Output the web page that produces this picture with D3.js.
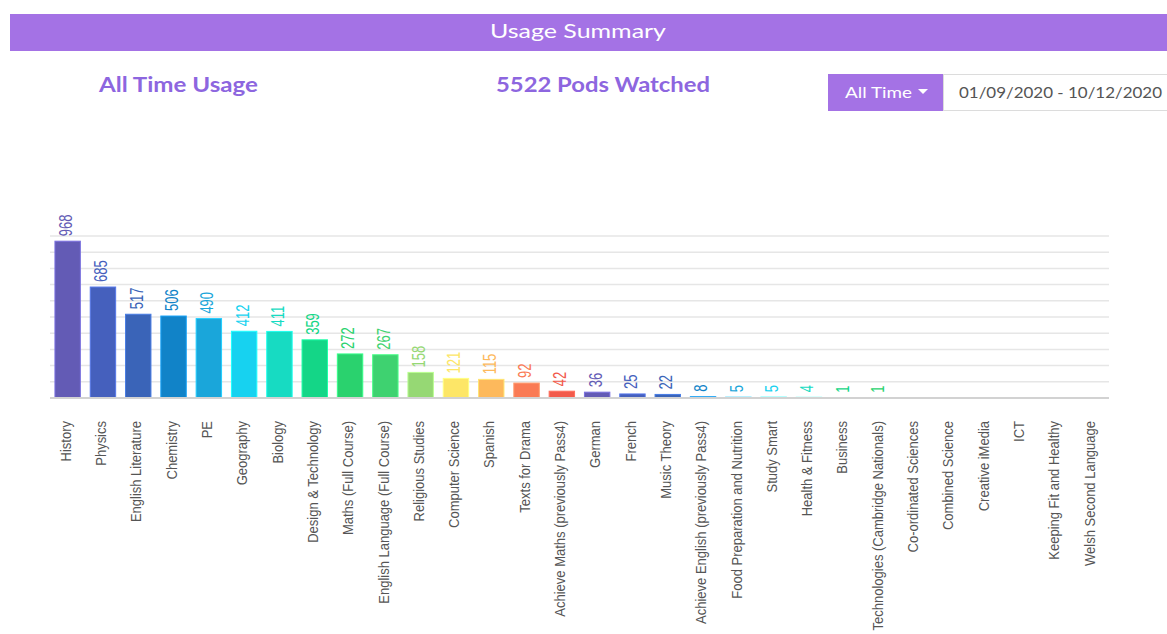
<!DOCTYPE html>
<html>
<head>
<meta charset="utf-8">
<script src="https://cdn.jsdelivr.net/npm/d3@7"></script>
<style>
  body { margin: 0; background: #fff; }
  svg text { font-family: "Liberation Sans", Arial, sans-serif; }
</style>
</head>
<body>
<div id="chart"></div>
<script>
// subjects and how many pods were watched for each
const subjects = ["History", "Physics", "English Literature", "Chemistry", "PE", "Geography", "Biology",
    "Design & Technology", "Maths (Full Course)", "English Language (Full Course)", "Religious Studies",
    "Computer Science", "Spanish", "Texts for Drama", "Achieve Maths (previously Pass4)", "German", "French",
    "Music Theory", "Achieve English (previously Pass4)", "Food Preparation and Nutrition", "Study Smart",
    "Health & Fitness", "Business", "Technologies (Cambridge Nationals)", "Co-ordinated Sciences",
    "Combined Science", "Creative iMedia", "ICT", "Keeping Fit and Healthy", "Welsh Second Language"];
const views = [968, 685, 517, 506, 490, 412, 411, 359, 272, 267, 158, 121, 115, 92, 42, 36, 25, 22, 8, 5, 5, 4, 1, 1, 0, 0, 0, 0, 0, 0];
const palette = ["#635bb5", "#4560bd", "#3a64b8", "#1183c8", "#1aa6da", "#17d2f0", "#17dbc2", "#14d687",
    "#2ad26e", "#3ed270", "#96d874", "#fde667", "#fdb95c", "#fa7b55", "#f25a4b"];
const gridTicks = [100, 200, 300, 400, 500, 600, 700, 800, 900, 1000];

const W = 1167, H = 634;
const svg = d3.select('#chart').append('svg')
    .attr('width', W)
    .attr('height', H);

// small helper for the header texts, stretched to the width seen in the screenshot
const label = (txt, x, y, size, len, color, weight) => svg.append('text')
    .attr('x', x).attr('y', y)
    .attr('textLength', len)
    .attr('lengthAdjust', 'spacingAndGlyphs')
    .style('font-family', 'Lato, sans-serif')
    .style('font-weight', weight || 'normal')
    .style('font-size', size + 'px')
    .style('fill', color)
    .text(txt);

// header bar
svg.append('rect')
    .attr('x', 10).attr('y', 14)
    .attr('width', W - 10).attr('height', 37)
    .style('fill', '#a472e5');
label('Usage Summary', 490, 38, 20, 176, '#fff');

const total = d3.sum(views);
label('All Time Usage', 99, 92, 20, 159, '#8d66df', 'bold');
label(`${total} Pods Watched`, 496, 92, 20, 214, '#8d66df', 'bold');

// date range picker
svg.append('rect')
    .attr('x', 943.5).attr('y', 74.5)
    .attr('width', 230).attr('height', 36)
    .style('fill', '#fff')
    .style('stroke', '#dcdcdc');
svg.append('rect')
    .attr('x', 828).attr('y', 74)
    .attr('width', 115).attr('height', 37)
    .style('fill', '#a472e5');
label('All Time', 845, 98, 16, 67, '#fff');
svg.append('path')
    .attr('d', 'M918,89 L928,89 L923,94 Z')
    .style('fill', '#fff');
label('01/09/2020 - 10/12/2020', 959, 98, 16, 203, '#555');

// chart
const x = d3.scaleBand()
    .domain(subjects)
    .range([50, 1109])
    .paddingInner(0.28)
    .paddingOuter(0.14);
const y = d3.scaleLinear()
    .domain([0, 1000])
    .range([398, 236]);

svg.append('g')
    .selectAll('line')
    .data(gridTicks)
    .join('line')
        .attr('x1', 50).attr('x2', 1109)
        .attr('y1', d => y(d)).attr('y2', d => y(d))
        .style('stroke', '#e6e6e6')
        .style('stroke-width', 1.5);

svg.append('g')
    .selectAll('rect')
    .data(views)
    .join('rect')
        .attr('x', (d, i) => x(subjects[i]))
        .attr('y', d => y(d))
        .attr('width', x.bandwidth())
        .attr('height', d => y(0) - y(d))
        .style('fill', (d, i) => palette[i % palette.length])
        .style('stroke', (d, i) => d3.color(palette[i % palette.length]).brighter(0.6))
        .style('stroke-width', 1);

svg.append('line')
    .attr('x1', 50).attr('x2', 1109)
    .attr('y1', y(0)).attr('y2', y(0))
    .style('stroke', '#d2d2d2')
    .style('stroke-width', 2);

// value labels above bars (tall, narrow digits like the original)
svg.append('g')
    .selectAll('text')
    .data(views.map((v, i) => ({ v, i })).filter(d => d.v > 0))
    .join('text')
        .attr('transform', d => `translate(${x(subjects[d.i]) + x.bandwidth() / 2 - 2},${y(d.v) - 5}) rotate(-90) scale(1,1.4)`)
        .attr('dy', '0.35em')
        .style('font-size', '13px')
        .style('fill', d => palette[d.i % palette.length])
        .text(d => d.v);

// category labels
const axis = d3.axisBottom(x).tickSize(0).tickPadding(0);
const gx = svg.append('g')
    .attr('transform', `translate(0,${y(0)})`)
    .call(axis);
gx.select('.domain').remove();
gx.selectAll('text')
    .attr('transform', 'translate(-2,23) rotate(-90) scale(1,1.15)')
    .attr('dy', '0.35em')
    .attr('text-anchor', 'end')
    .style('font-family', '"Liberation Sans", Arial, sans-serif')
    .style('font-size', '13px')
    .style('fill', '#555');
</script>
</body>
</html>
